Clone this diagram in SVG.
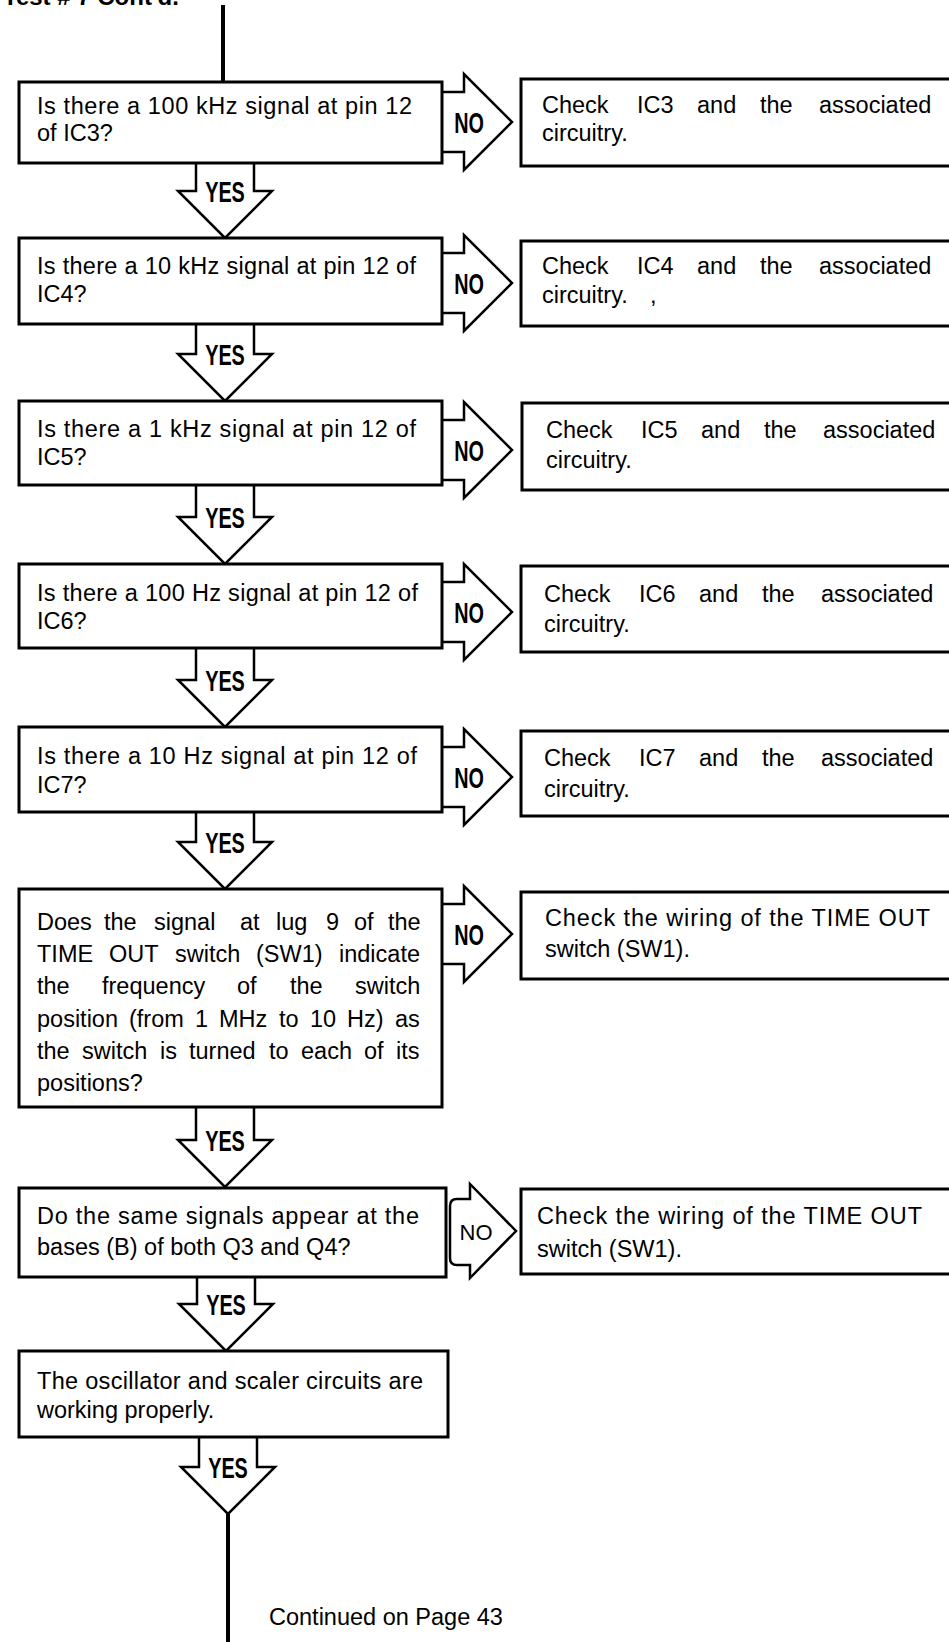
<svg xmlns="http://www.w3.org/2000/svg" width="949" height="1642" viewBox="0 0 949 1642">
<style>
.box{fill:#fff;stroke:#000;stroke-width:3}
.arr{fill:#fff;stroke:#000;stroke-width:2.5;stroke-linejoin:miter}
.ln{stroke:#000;stroke-width:4;fill:none}
.t{font-family:"Liberation Sans",Arial,sans-serif;font-size:23.5px;fill:#000}
.yn{font-family:"Liberation Sans",Arial,sans-serif;font-weight:bold;font-size:30px;text-anchor:middle;fill:#000}
.no2{font-family:"Liberation Sans",Arial,sans-serif;font-size:22px;text-anchor:middle;fill:#000}
.ttl{font-family:"Liberation Sans",Arial,sans-serif;font-weight:bold;font-size:24px;fill:#000}
</style>
<rect width="949" height="1642" fill="#fff"/>
<text class="ttl" x="3" y="5">Test # 7 Cont'd.</text>

<g id="connectors">
  <line class="ln" x1="223" y1="5" x2="223" y2="82"/>
  <!-- YES arrows -->
  <path class="arr" d="M196 163 V191 H178 L225 238 L272 191 H254 V163"/>
  <text class="yn" transform="translate(225,202) scale(0.66,1)">YES</text>
  <path class="arr" d="M196 324 V354 H178 L225 401 L272 354 H254 V324"/>
  <text class="yn" transform="translate(225,365) scale(0.66,1)">YES</text>
  <path class="arr" d="M196 485 V517 H178 L225 564 L272 517 H254 V485"/>
  <text class="yn" transform="translate(225,528) scale(0.66,1)">YES</text>
  <path class="arr" d="M196 648 V680 H178 L225 727 L272 680 H254 V648"/>
  <text class="yn" transform="translate(225,691) scale(0.66,1)">YES</text>
  <path class="arr" d="M196 812 V842 H178 L225 889 L272 842 H254 V812"/>
  <text class="yn" transform="translate(225,853) scale(0.66,1)">YES</text>
  <path class="arr" d="M196 1107 V1140 H178 L225 1187 L272 1140 H254 V1107"/>
  <text class="yn" transform="translate(225,1151) scale(0.66,1)">YES</text>
  <path class="arr" d="M197 1277 V1304 H179 L226 1351 L273 1304 H255 V1277"/>
  <text class="yn" transform="translate(226,1315) scale(0.66,1)">YES</text>
  <path class="arr" d="M199 1437 V1467 H181 L228 1514 L275 1467 H257 V1437"/>
  <text class="yn" transform="translate(228,1478) scale(0.66,1)">YES</text>
  <line class="ln" x1="228" y1="1514" x2="228" y2="1642"/>
  <!-- NO arrows -->
  <path class="arr" d="M442 92 H464 V74 L512 122 L464 170 V152 H442"/>
  <text class="yn" transform="translate(469,133) scale(0.66,1)">NO</text>
  <path class="arr" d="M442 253 H464 V235 L512 283 L464 331 V313 H442"/>
  <text class="yn" transform="translate(469,294) scale(0.66,1)">NO</text>
  <path class="arr" d="M442 420 H464 V402 L512 450 L464 498 V480 H442"/>
  <text class="yn" transform="translate(469,461) scale(0.66,1)">NO</text>
  <path class="arr" d="M442 582 H464 V564 L512 612 L464 660 V642 H442"/>
  <text class="yn" transform="translate(469,623) scale(0.66,1)">NO</text>
  <path class="arr" d="M442 747 H464 V729 L512 777 L464 825 V807 H442"/>
  <text class="yn" transform="translate(469,788) scale(0.66,1)">NO</text>
  <path class="arr" d="M442 904 H464 V886 L512 934 L464 982 V964 H442"/>
  <text class="yn" transform="translate(469,945) scale(0.66,1)">NO</text>
  <path class="arr" stroke-width="2" d="M457 1199 H470 V1184 L516 1231 L470 1278 V1265 H457 Q450 1265 450 1258 V1206 Q450 1199 457 1199 Z"/>
  <text class="no2" x="476" y="1240">NO</text>
</g>

<g id="q1">
  <rect class="box" x="19" y="82" width="423" height="81"/>
  <text class="t" x="37" y="114" textLength="375" lengthAdjust="spacing">Is there a 100 kHz signal at pin 12</text>
  <text class="t" x="37" y="141">of IC3?</text>
</g>
<g id="r1">
  <rect class="box" x="521" y="79" width="445" height="87"/>
  <text class="t" y="113"><tspan x="542">Check</tspan><tspan x="637">IC3</tspan><tspan x="697">and</tspan><tspan x="760">the</tspan><tspan x="819">associated</tspan></text>
  <text class="t" x="542" y="141">circuitry.</text>
</g>

<g id="q2">
  <rect class="box" x="19" y="238" width="423" height="86"/>
  <text class="t" x="37" y="274" textLength="379" lengthAdjust="spacing">Is there a 10 kHz signal at pin 12 of</text>
  <text class="t" x="37" y="302">IC4?</text>
</g>
<g id="r2">
  <rect class="box" x="521" y="241" width="445" height="85"/>
  <text class="t" y="274"><tspan x="542">Check</tspan><tspan x="637">IC4</tspan><tspan x="697">and</tspan><tspan x="760">the</tspan><tspan x="819">associated</tspan></text>
  <text class="t" y="303"><tspan x="542">circuitry.</tspan><tspan x="650">,</tspan></text>
</g>

<g id="q3">
  <rect class="box" x="19" y="401" width="423" height="84"/>
  <text class="t" x="37" y="437" textLength="379" lengthAdjust="spacing">Is there a 1 kHz signal at pin 12 of</text>
  <text class="t" x="37" y="465">IC5?</text>
</g>
<g id="r3">
  <rect class="box" x="522" y="403" width="445" height="87"/>
  <text class="t" y="438"><tspan x="546">Check</tspan><tspan x="641">IC5</tspan><tspan x="701">and</tspan><tspan x="764">the</tspan><tspan x="823">associated</tspan></text>
  <text class="t" x="546" y="468">circuitry.</text>
</g>

<g id="q4">
  <rect class="box" x="19" y="564" width="423" height="84"/>
  <text class="t" x="37" y="601" textLength="381" lengthAdjust="spacing">Is there a 100 Hz signal at pin 12 of</text>
  <text class="t" x="37" y="629">IC6?</text>
</g>
<g id="r4">
  <rect class="box" x="521" y="566" width="445" height="86"/>
  <text class="t" y="602"><tspan x="544">Check</tspan><tspan x="639">IC6</tspan><tspan x="699">and</tspan><tspan x="762">the</tspan><tspan x="821">associated</tspan></text>
  <text class="t" x="544" y="632">circuitry.</text>
</g>

<g id="q5">
  <rect class="box" x="19" y="727" width="423" height="85"/>
  <text class="t" x="37" y="764" textLength="380" lengthAdjust="spacing">Is there a 10 Hz signal at pin 12 of</text>
  <text class="t" x="37" y="793">IC7?</text>
</g>
<g id="r5">
  <rect class="box" x="521" y="731" width="445" height="85"/>
  <text class="t" y="766"><tspan x="544">Check</tspan><tspan x="639">IC7</tspan><tspan x="699">and</tspan><tspan x="762">the</tspan><tspan x="821">associated</tspan></text>
  <text class="t" x="544" y="797">circuitry.</text>
</g>

<g id="q6">
  <rect class="box" x="19" y="889" width="423" height="218"/>
  <text class="t" y="930"><tspan x="37">Does</tspan><tspan x="104">the</tspan><tspan x="154">signal</tspan><tspan x="240">at</tspan><tspan x="276">lug</tspan><tspan x="326">9</tspan><tspan x="354">of</tspan><tspan x="388">the</tspan></text>
  <text class="t" y="962"><tspan x="37">TIME</tspan><tspan x="109">OUT</tspan><tspan x="175">switch</tspan><tspan x="256">(SW1)</tspan><tspan x="339">indicate</tspan></text>
  <text class="t" y="994"><tspan x="37">the</tspan><tspan x="102">frequency</tspan><tspan x="237">of</tspan><tspan x="290">the</tspan><tspan x="355">switch</tspan></text>
  <text class="t" y="1027"><tspan x="37">position</tspan><tspan x="129">(from</tspan><tspan x="195">1</tspan><tspan x="219">MHz</tspan><tspan x="279">to</tspan><tspan x="310">10</tspan><tspan x="347">Hz)</tspan><tspan x="395">as</tspan></text>
  <text class="t" y="1059"><tspan x="37">the</tspan><tspan x="82">switch</tspan><tspan x="160">is</tspan><tspan x="189">turned</tspan><tspan x="269">to</tspan><tspan x="301">each</tspan><tspan x="364">of</tspan><tspan x="396">its</tspan></text>
  <text class="t" x="37" y="1091">positions?</text>
</g>
<g id="r6">
  <rect class="box" x="521" y="892" width="445" height="87"/>
  <text class="t" x="545" y="926" textLength="385" lengthAdjust="spacing">Check the wiring of the TIME OUT</text>
  <text class="t" x="545" y="957">switch (SW1).</text>
</g>

<g id="q7">
  <rect class="box" x="19" y="1188" width="427" height="89"/>
  <text class="t" x="37" y="1224" textLength="382" lengthAdjust="spacing">Do the same signals appear at the</text>
  <text class="t" x="37" y="1255">bases (B) of both Q3 and Q4?</text>
</g>
<g id="r7">
  <rect class="box" x="521" y="1189" width="445" height="85"/>
  <text class="t" x="537" y="1224" textLength="385" lengthAdjust="spacing">Check the wiring of the TIME OUT</text>
  <text class="t" x="537" y="1257">switch (SW1).</text>
</g>

<g id="q8">
  <rect class="box" x="19" y="1351" width="429" height="86"/>
  <text class="t" x="37" y="1389" textLength="386" lengthAdjust="spacing">The oscillator and scaler circuits are</text>
  <text class="t" x="37" y="1418">working properly.</text>
</g>

<g id="footer">
  <text class="t" x="269" y="1625">Continued on Page 43</text>
</g>
</svg>
